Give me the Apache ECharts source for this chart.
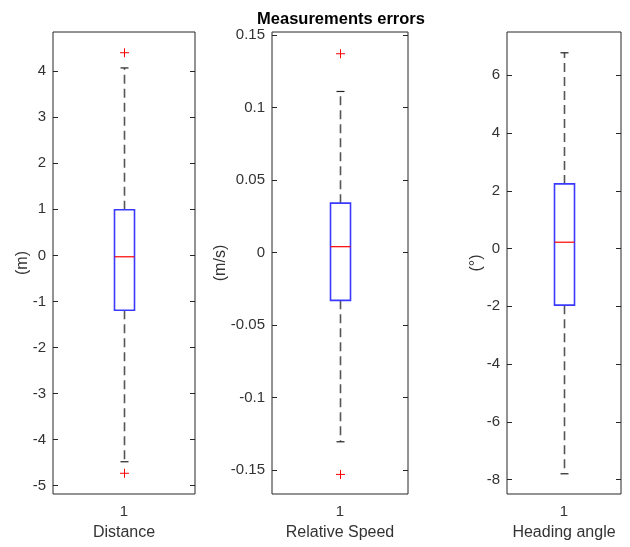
<!DOCTYPE html>
<html>
<head>
<meta charset="utf-8">
<script src="https://cdn.jsdelivr.net/npm/echarts@6/dist/echarts.min.js"></script>
<style>html,body{margin:0;padding:0;background:#fff}#c{width:630px;height:547px}</style>
</head>
<body>
<div id="c"></div>
<script>
const chartTitle = 'Measurements errors';
const categories = ['1'];
const panelNames = ['Distance', 'Relative Speed', 'Heading angle'];
const unitNames = ['(m)', '(m/s)', '(°)'];
const whiskerLow = [-4.48, -0.1305, -7.80];
const q1 = [-1.19, -0.033, -1.96];
const median = [-0.03, 0.004, 0.22];
const q3 = [0.99, 0.034, 2.24];
const whiskerHigh = [4.07, 0.111, 6.78];
const outliers = [[4.40, -4.73], [0.137, -0.153], []];
const yMin = [-5.18, -0.1665, -8.5];
const yMax = [4.85, 0.152, 7.5];
const yTicks = [
  [-5, -4, -3, -2, -1, 0, 1, 2, 3, 4],
  [-0.15, -0.1, -0.05, 0, 0.05, 0.1, 0.15],
  [-8, -6, -4, -2, 0, 2, 4, 6]
];

const gridBoxes = [
  {left: 53, top: 32, width: 142, height: 462},
  {left: 272, top: 32, width: 136, height: 462},
  {left: 507, top: 32, width: 114, height: 462}
];
const nameGaps = [22.5, 43, 22];
const FONT = '"Liberation Sans", Arial, Helvetica, sans-serif';
const axisCol = '#262626';
const textCol = '#333333';

const chart = echarts.init(document.getElementById('c'), null, {renderer: 'canvas'});

const grid = [], xAxis = [], yAxis = [], series = [];
gridBoxes.forEach((g, i) => {
  grid.push(Object.assign({show: true, borderColor: axisCol, borderWidth: 1, backgroundColor: 'transparent', containLabel: false}, g));
  xAxis.push({
    type: 'category', gridIndex: i, data: categories, position: 'bottom',
    boundaryGap: true,
    axisLine: {show: false},
    axisTick: {show: true, inside: true, alignWithLabel: true, length: 5, lineStyle: {color: axisCol}},
    axisLabel: {show: true, margin: 10, color: textCol, fontSize: 15, fontFamily: FONT},
    splitLine: {show: false},
    name: panelNames[i], nameLocation: 'middle', nameGap: 31, nameMoveOverlap: false,
    nameTextStyle: {color: textCol, fontSize: 16, fontFamily: FONT}
  });
  xAxis.push({
    type: 'category', gridIndex: i, data: categories, position: 'top',
    boundaryGap: true,
    axisLine: {show: false},
    axisTick: {show: true, inside: true, alignWithLabel: true, length: 5, lineStyle: {color: axisCol}},
    axisLabel: {show: false},
    splitLine: {show: false}
  });
  yAxis.push({
    type: 'value', gridIndex: i, position: 'left', min: yMin[i], max: yMax[i],
    axisLine: {show: false},
    axisTick: {show: true, inside: true, length: 5, customValues: yTicks[i], lineStyle: {color: axisCol}},
    axisLabel: {show: true, margin: 7, color: textCol, fontSize: 15, fontFamily: FONT, customValues: yTicks[i],
      formatter: v => String(+(+v).toFixed(4))},
    splitLine: {show: false},
    name: unitNames[i], nameLocation: 'middle', nameGap: nameGaps[i], nameMoveOverlap: false,
    nameTextStyle: {color: textCol, fontSize: 16, fontFamily: FONT}
  });
  yAxis.push({
    type: 'value', gridIndex: i, position: 'right', min: yMin[i], max: yMax[i],
    axisLine: {show: false},
    axisTick: {show: true, inside: true, length: 5, customValues: yTicks[i], lineStyle: {color: axisCol}},
    axisLabel: {show: false, customValues: yTicks[i]},
    splitLine: {show: false}
  });

  series.push({
    type: 'custom',
    xAxisIndex: i * 2, yAxisIndex: i * 2,
    clip: false,
    data: [[0, whiskerLow[i], q1[i], median[i], q3[i], whiskerHigh[i]]],
    encode: {x: 0, y: [1, 2, 3, 4, 5]},
    renderItem: function (params, api) {
      const x = api.value(0);
      const pLo = api.coord([x, api.value(1)]);
      const pQ1 = api.coord([x, api.value(2)]);
      const pMed = api.coord([x, api.value(3)]);
      const pQ3 = api.coord([x, api.value(4)]);
      const pHi = api.coord([x, api.value(5)]);
      const cx = Math.round(pMed[0]) + 0.5;
      const hw = 10, cap = 4;
      const dash = {stroke: '#555555', lineWidth: 1.6, lineDash: [9, 5]};
      return {
        type: 'group',
        children: [
          {type: 'line', shape: {x1: cx, y1: pQ3[1], x2: cx, y2: pHi[1]}, style: dash},
          {type: 'line', shape: {x1: cx, y1: pQ1[1], x2: cx, y2: pLo[1]}, style: dash},
          {type: 'line', shape: {x1: cx - cap, y1: pHi[1], x2: cx + cap, y2: pHi[1]}, style: {stroke: '#222', lineWidth: 1.2}},
          {type: 'line', shape: {x1: cx - cap, y1: pLo[1], x2: cx + cap, y2: pLo[1]}, style: {stroke: '#222', lineWidth: 1.2}},
          {type: 'rect', shape: {x: cx - hw, y: pQ3[1], width: 2 * hw, height: pQ1[1] - pQ3[1]},
            style: {fill: '#ffffff', stroke: '#3a3aff', lineWidth: 1.6}},
          {type: 'line', shape: {x1: cx - hw, y1: pMed[1], x2: cx + hw, y2: pMed[1]}, style: {stroke: '#ff0000', lineWidth: 1.2}}
        ]
      };
    },
    z: 5
  });

  series.push({
    type: 'custom',
    xAxisIndex: i * 2, yAxisIndex: i * 2,
    clip: false,
    data: outliers[i].map(v => [0, v]),
    encode: {x: 0, y: 1},
    renderItem: function (params, api) {
      const p = api.coord([api.value(0), api.value(1)]);
      const cx = Math.round(p[0]) + 0.5, cy = p[1];
      const s = 4.5;
      return {
        type: 'group',
        children: [
          {type: 'line', shape: {x1: cx - s, y1: cy, x2: cx + s, y2: cy}, style: {stroke: '#ff0000', lineWidth: 1}},
          {type: 'line', shape: {x1: cx, y1: cy - s, x2: cx, y2: cy + s}, style: {stroke: '#ff0000', lineWidth: 1}}
        ]
      };
    },
    z: 6
  });
});

chart.setOption({
  backgroundColor: '#ffffff',
  animation: false,
  grid: grid,
  xAxis: xAxis,
  yAxis: yAxis,
  series: series,
  graphic: [{
    type: 'text', x: 341, y: 19,
    style: {text: chartTitle, textAlign: 'center', textVerticalAlign: 'middle',
      font: 'bold 16.5px ' + FONT, fill: '#000000'}
  }]
});
</script>
</body>
</html>
